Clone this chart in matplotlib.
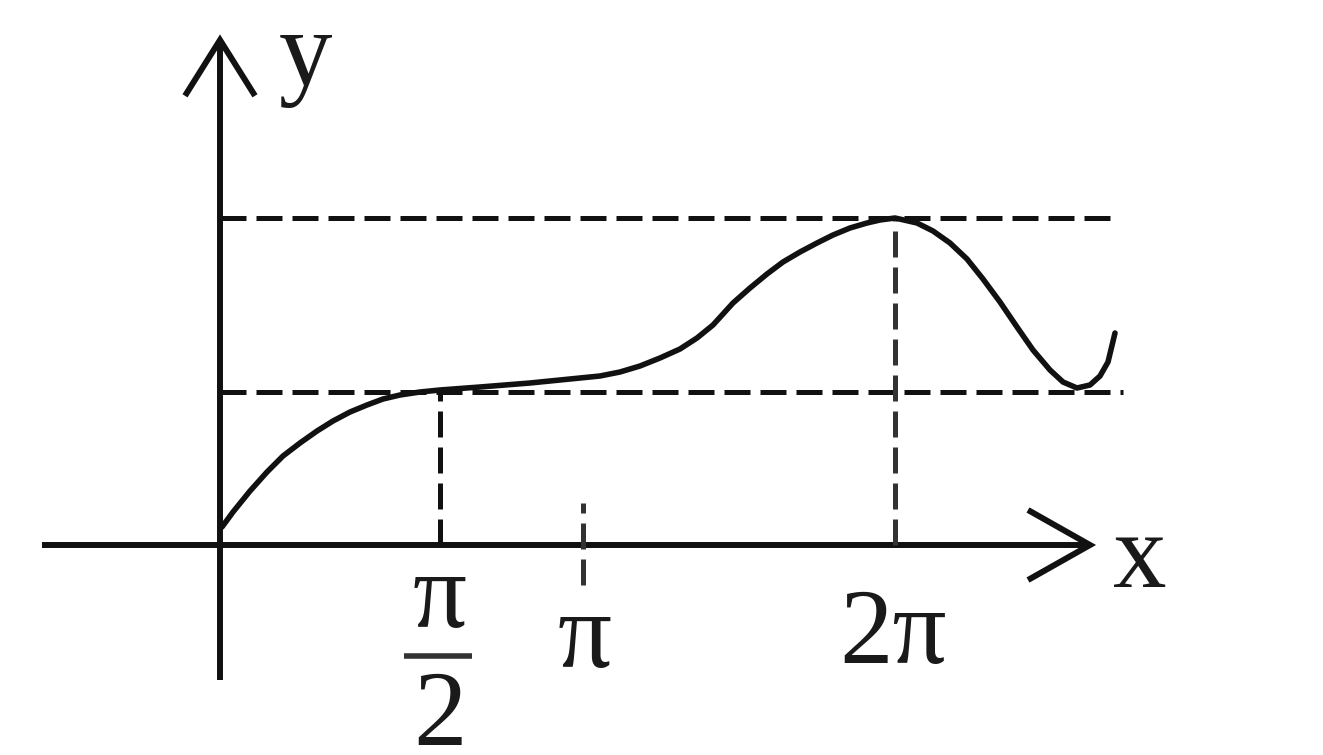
import matplotlib
matplotlib.use("Agg")
import matplotlib.pyplot as plt
import numpy as np

# ---- data (logical units; origin at axes crossing) ----
curve_x = [0.02, 0.13, 0.30, 0.47, 0.63, 0.80, 0.97, 1.13, 1.30, 1.47, 1.63, 1.80, 2.00, 2.20,
           2.60, 3.10, 3.60, 3.80, 4.00, 4.20, 4.40, 4.60, 4.77, 4.93, 5.13, 5.30, 5.47, 5.63,
           5.80, 5.97, 6.13, 6.30, 6.47, 6.60, 6.75, 6.97, 7.13, 7.30, 7.47, 7.63, 7.80, 7.97,
           8.13, 8.30, 8.43, 8.57, 8.70, 8.80, 8.88, 8.95]
curve_y = [0.18, 0.33, 0.54, 0.73, 0.89, 1.02, 1.14, 1.24, 1.33, 1.40, 1.46, 1.50, 1.53, 1.55,
           1.58, 1.62, 1.67, 1.69, 1.73, 1.79, 1.87, 1.96, 2.07, 2.20, 2.42, 2.57, 2.71, 2.83,
           2.93, 3.02, 3.10, 3.17, 3.22, 3.25, 3.27, 3.22, 3.14, 3.02, 2.86, 2.66, 2.43, 2.18,
           1.95, 1.75, 1.63, 1.57, 1.60, 1.69, 1.83, 2.12]

tick_pos = [2.20, 3.63, 6.75]          # pi/2, pi, 2pi
tick_labels = ["π/2", "π", "2π"]
level_low = 1.53
level_high = 3.27

# ---- figure ----
fig = plt.figure(figsize=(13.23, 7.55), dpi=100)
ax = fig.add_axes([0, 0, 1, 1])
ax.set_xlim(-2.2, 11.03)
ax.set_ylim(-2.10, 5.45)
ax.axis("off")

K = "#111111"
axis_lw = 4.3
dash_lw = 3.6
dash = (5.2, 2.0)

# axes
x_left, x_right = -1.78, 8.70
y_bot, y_top = -1.35, 5.05
ax.plot([x_left, x_right], [0, 0], color=K, lw=axis_lw, solid_capstyle="butt")
ax.plot([0, 0], [y_bot, y_top], color=K, lw=axis_lw, solid_capstyle="butt")
# open arrowheads
ah_len, ah_half = 0.62, 0.35
ax.plot([x_right - ah_len, x_right, x_right - ah_len], [ah_half, 0, -ah_half],
        color=K, lw=axis_lw, solid_joinstyle="miter", solid_capstyle="butt")
ax.plot([-ah_half, 0, ah_half], [y_top - ah_len * 0.9, y_top, y_top - ah_len * 0.9],
        color=K, lw=axis_lw, solid_joinstyle="miter", solid_capstyle="butt")

# dashed guide lines
ax.plot([0, 9.03], [level_low, level_low], color=K, lw=dash_lw, dashes=dash)
ax.plot([0, 8.98], [level_high, level_high], color=K, lw=dash_lw, dashes=dash)
ax.plot([tick_pos[0], tick_pos[0]], [0, level_low], color=K, lw=dash_lw, dashes=dash)
ax.plot([tick_pos[2], tick_pos[2]], [0, level_high], color="#333333", lw=dash_lw, dashes=dash)
ax.plot([tick_pos[1], tick_pos[1]], [-0.40, 0.42], color="#333333", lw=dash_lw, dashes=dash)

# curve
ax.plot(curve_x, curve_y, color=K, lw=4.0, solid_joinstyle="round", solid_capstyle="round")

# labels
fnt = dict(family=["Liberation Serif", "DejaVu Serif"], fontsize=77, color="#1a1a1a")
ax.text(0.85, 4.60, "y", ha="center", va="baseline", **fnt)
ax.text(9.20, -0.42, "x", ha="center", va="baseline", **fnt)
# pi/2 as stacked fraction
ax.text(tick_pos[0], -0.82, "π", ha="center", va="baseline", **fnt)
ax.plot([tick_pos[0] - 0.36, tick_pos[0] + 0.32], [-1.11, -1.11], color="#333333", lw=4.0,
        solid_capstyle="butt")
ax.text(tick_pos[0], -2.00, "2", ha="center", va="baseline", **fnt)
ax.text(tick_pos[1] + 0.02, -1.22, tick_labels[1], ha="center", va="baseline", **fnt)
ax.text(tick_pos[2] - 0.02, -1.18, tick_labels[2], ha="center", va="baseline", **fnt)

fig.savefig("out.png", dpi=100)
